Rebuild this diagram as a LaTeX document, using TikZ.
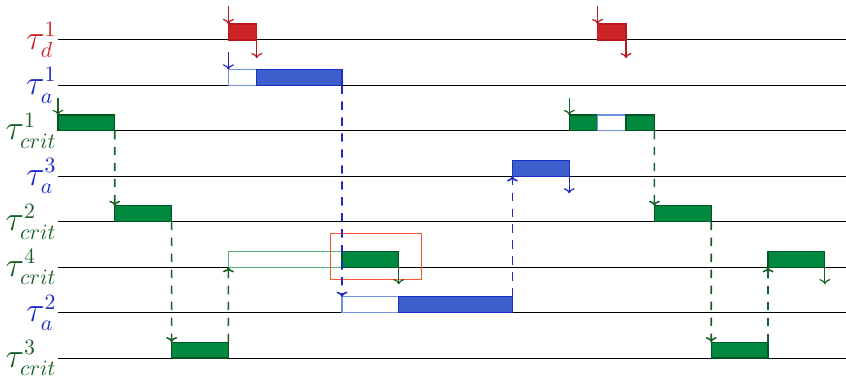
\documentclass[tikz,border=0pt]{standalone}
\usetikzlibrary{arrows.meta}
\definecolor{cred}{RGB}{205,36,40}
\definecolor{credline}{RGB}{185,25,30}
\definecolor{cblue}{RGB}{60,95,206}
\definecolor{cblueline}{RGB}{28,45,195}
\definecolor{clightblue}{RGB}{110,145,225}
\definecolor{cgreen}{RGB}{0,137,62}
\definecolor{cgreenline}{RGB}{0,85,35}
\definecolor{clightgreen}{RGB}{90,175,125}
\definecolor{cdgreen}{RGB}{25,95,40}
\definecolor{cdblue}{RGB}{30,40,200}
\definecolor{cbox}{RGB}{255,85,50}
\tikzset{
  lbl/.style={anchor=east, inner sep=0.5pt, font=\fontsize{16}{19}\selectfont},
  rowline/.style={black, line width=0.5pt},
  bar/.style={rectangle, inner sep=0pt, outer sep=0pt, minimum height=0.28cm, anchor=south west, line width=0.6pt},
  redbar/.style={bar, fill=cred, draw=credline},
  bluebar/.style={bar, fill=cblue, draw=cblueline},
  greenbar/.style={bar, fill=cgreen, draw=cgreenline},
  hollowblue/.style={bar, fill=white, draw=clightblue},
  hollowgreen/.style={bar, fill=white, draw=clightgreen},
  tip/.style={-{To[length=2.6pt,width=5.5pt]}},
  solidarr/.style={tip, line width=0.6pt},
  dasharr/.style={tip, line width=0.8pt, dash pattern=on 4.2pt off 3.8pt},
}
\begin{document}
\begin{tikzpicture}[x=1cm,y=1cm]
\useasboundingbox (-1.021,0.704) rectangle (13.873,-5.968);
\coordinate (E) at (13.873,0);
% labels
\node[lbl, text=cred] (L1) at (0,0) {$\tau_d^1$};
\node[lbl, text=cdblue] (L2) at (0,-0.8) {$\tau_a^1$};
\node[lbl, text=cdgreen] (L3) at (0,-1.6) {$\tau_{crit}^1$};
\node[lbl, text=cdblue] (L4) at (0,-2.4) {$\tau_a^3$};
\node[lbl, text=cdgreen] (L5) at (0,-3.2) {$\tau_{crit}^2$};
\node[lbl, text=cdgreen] (L6) at (0,-4.0) {$\tau_{crit}^4$};
\node[lbl, text=cdblue] (L7) at (0,-4.8) {$\tau_a^2$};
\node[lbl, text=cdgreen] (L8) at (0,-5.6) {$\tau_{crit}^3$};
% row lines
\foreach \r in {L1,L2,L3,L4,L5,L6,L7,L8}
  \draw[rowline] (\r.east) -- (\r.east -| E);
% bars
\node[redbar, minimum width=0.5cm] (d1a) at (3,0) {};
\node[redbar, minimum width=0.5cm] (d1b) at (9.5,0) {};
\node[hollowblue, minimum width=0.5cm] (a1h) at (3,-0.8) {};
\node[bluebar, minimum width=1.5cm] (a1f) at (3.5,-0.8) {};
\node[greenbar, minimum width=1cm] (c1a) at (0,-1.6) {};
\node[greenbar, minimum width=0.5cm] (c1b) at (9,-1.6) {};
\node[hollowblue, minimum width=0.5cm] (c1h) at (9.5,-1.6) {};
\node[greenbar, minimum width=0.5cm] (c1c) at (10,-1.6) {};
\node[bluebar, minimum width=1cm] (a3) at (8,-2.4) {};
\node[greenbar, minimum width=1cm] (c2a) at (1,-3.2) {};
\node[greenbar, minimum width=1cm] (c2b) at (10.5,-3.2) {};
\node[hollowgreen, minimum width=2cm] (c4h) at (3,-4.0) {};
\node[greenbar, minimum width=1cm] (c4a) at (5,-4.0) {};
\node[greenbar, minimum width=1cm] (c4b) at (12.5,-4.0) {};
\node[hollowblue, minimum width=1cm] (a2h) at (5,-4.8) {};
\node[bluebar, minimum width=2cm] (a2f) at (6,-4.8) {};
\node[greenbar, minimum width=1cm] (c3a) at (2,-5.6) {};
\node[greenbar, minimum width=1cm] (c3b) at (11.5,-5.6) {};
% highlight box
\node[draw=cbox, line width=0.6pt, inner sep=0pt, minimum width=1.6cm, minimum height=0.81cm, anchor=north west] (hl) at (4.79,-3.398) {};
% release arrows
\draw[solidarr, credline] ([yshift=0.32cm]d1a.north west) -- (d1a.north west);
\draw[solidarr, credline] ([yshift=0.32cm]d1b.north west) -- (d1b.north west);
\draw[solidarr, cdblue] ([yshift=0.3cm]a1h.north west) -- (a1h.north west);
\draw[solidarr, cdgreen] ([yshift=0.3cm]c1a.north west) -- (c1a.north west);
\draw[solidarr, cdgreen] ([yshift=0.3cm]c1b.north west) -- (c1b.north west);
% completion arrows
\draw[solidarr, credline] (d1a.south east) -- ([yshift=-0.32cm]d1a.south east);
\draw[solidarr, credline] (d1b.south east) -- ([yshift=-0.32cm]d1b.south east);
\draw[solidarr, cdblue] (a3.south east) -- ([yshift=-0.3cm]a3.south east);
\draw[solidarr, cdgreen] (c4a.south east) -- ([yshift=-0.3cm]c4a.south east);
\draw[solidarr, cdgreen] (c4b.south east) -- ([yshift=-0.3cm]c4b.south east);
% dashed dependencies
\draw[dasharr, cdblue] (a1f.south east) -- (a2h.north west);
\draw[dasharr, cdblue] (a2f.north east) -- (a3.south west);
\draw[dasharr, cdgreen] (c1a.south east) -- (c2a.north west);
\draw[dasharr, cdgreen] (c2a.south east) -- (c3a.north west);
\draw[dasharr, cdgreen] (c3a.north east) -- (c4h.south west);
\draw[dasharr, cdgreen] (c1c.south east) -- (c2b.north west);
\draw[dasharr, cdgreen] (c2b.south east) -- (c3b.north west);
\draw[dasharr, cdgreen] (c3b.north east) -- (c4b.south west);
\end{tikzpicture}
\end{document}
